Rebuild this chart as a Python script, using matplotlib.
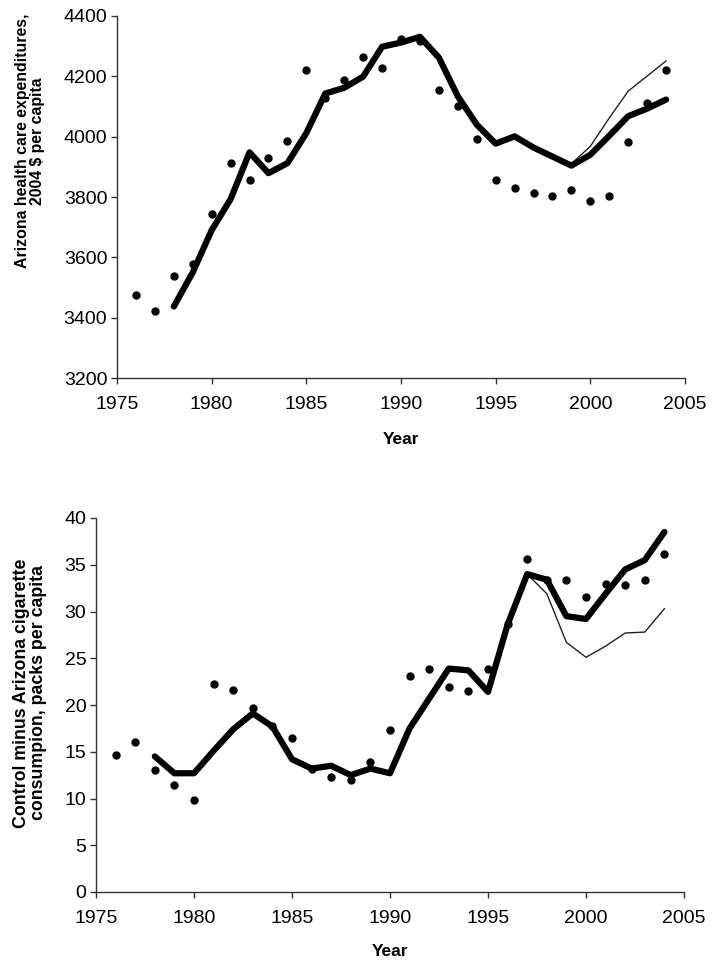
import matplotlib
matplotlib.use("Agg")
import matplotlib.pyplot as plt

plt.rcParams['font.family'] = ['Liberation Sans', 'DejaVu Sans']

# ---- Top panel: health care expenditures ----
years_obs = list(range(1976, 2005))
hc_actual = [3476, 3421, 3537, 3579, 3742, 3914, 3857, 3929, 3987, 4221,
             4127, 4188, 4264, 4227, 4323, 4316, 4154, 4101, 3992, 3858,
             3829, 3814, 3804, 3823, 3786, 3804, 3981, 4112, 4221]
years_fit = list(range(1978, 2005))
hc_thick = [3437, 3550, 3690, 3793, 3948, 3879, 3912, 4012, 4143, 4162,
            4199, 4298, 4312, 4331, 4262, 4134, 4040, 3977, 4001, 3964,
            3934, 3904, 3940, 4003, 4068, 4093, 4123]
hc_thin = [3437, 3550, 3690, 3793, 3948, 3879, 3912, 4012, 4143, 4162,
           4199, 4298, 4312, 4331, 4262, 4134, 4040, 3977, 4001, 3964,
           3934, 3910, 3968, 4062, 4151, 4201, 4251]

# ---- Bottom panel: cigarette consumption ----
cig_actual = [14.7, 16.0, 13.1, 11.4, 9.8, 22.2, 21.6, 19.7, 17.8, 16.5,
              13.2, 12.3, 12.0, 13.9, 17.3, 23.1, 23.8, 21.9, 21.5, 23.9,
              28.7, 35.6, 33.4, 33.4, 31.5, 32.9, 32.8, 33.4, 36.2]
cig_thick = [14.5, 12.7, 12.7, 15.1, 17.4, 19.1, 17.7, 14.2, 13.2, 13.5,
             12.5, 13.2, 12.7, 17.5, 20.7, 23.9, 23.7, 21.4, 28.6, 34.0,
             33.4, 29.5, 29.2, 31.9, 34.5, 35.5, 38.5]
cig_thin = [14.5, 12.7, 12.7, 15.1, 17.4, 19.1, 17.7, 14.2, 13.2, 13.5,
            12.5, 13.2, 12.7, 17.5, 20.7, 23.9, 23.7, 21.4, 28.6, 34.0,
            31.9, 26.7, 25.1, 26.3, 27.7, 27.8, 30.3]

xticks = [1975, 1980, 1985, 1990, 1995, 2000, 2005]
top_yticks = [3200, 3400, 3600, 3800, 4000, 4200, 4400]
bot_yticks = [0, 5, 10, 15, 20, 25, 30, 35, 40]

W, H = 712, 968
fig = plt.figure(figsize=(W / 100, H / 100), dpi=100)
ax1 = fig.add_axes([117 / W, 1 - 378 / H, (685 - 117) / W, (378 - 16) / H])
ax2 = fig.add_axes([96 / W, 1 - 892 / H, (684 - 96) / W, (892 - 518) / H])


def style(ax, yticks, ylabel, ylab_xy, xlab_y, ylab_size):
    for s in ['top', 'right']:
        ax.spines[s].set_visible(False)
    for s in ['left', 'bottom']:
        ax.spines[s].set_color('#333333')
        ax.spines[s].set_linewidth(1.0)
    ax.set_xlim(1975, 2005)
    ax.set_xticks(xticks)
    ax.set_ylim(yticks[0], yticks[-1])
    ax.set_yticks(yticks)
    ax.tick_params(direction='out', length=4, width=1.0, color='#333333',
                   labelsize=14)
    ax.tick_params(axis='x', pad=9)
    ax.tick_params(axis='y', pad=3)
    ax.set_xlabel('Year', fontsize=12.5, fontweight='bold')
    ax.xaxis.set_label_coords(0.5, xlab_y)
    ax.set_ylabel(ylabel, fontsize=ylab_size, fontweight='bold',
                  linespacing=1.05, va='center')
    ax.yaxis.set_label_coords(*ylab_xy)


ax1.plot(years_fit, hc_thin, color='#222222', lw=1.0, zorder=2)
ax1.plot(years_fit, hc_thick, color='black', lw=4.5, zorder=3,
         solid_capstyle='round', solid_joinstyle='round')
ax1.plot(years_obs, hc_actual, 'o', color='black', ms=5, zorder=4)
style(ax1, top_yticks, 'Arizona health care expenditures,\n2004 $ per capita',
      ((30 - 117) / 568, (378 - 141) / 362), (378 - 432) / 362, 11.4)

ax2.plot(years_fit, cig_thin, color='#222222', lw=1.0, zorder=2)
ax2.plot(years_fit, cig_thick, color='black', lw=4.5, zorder=3,
         solid_capstyle='round', solid_joinstyle='round')
ax2.plot(years_obs, cig_actual, 'o', color='black', ms=5, zorder=4)
style(ax2, bot_yticks, 'Control minus Arizona cigarette\nconsumpion, packs per capita',
      ((30 - 96) / 588, (892 - 693) / 374), (892 - 944) / 374, 12.8)

fig.savefig('out.png', dpi=100)
